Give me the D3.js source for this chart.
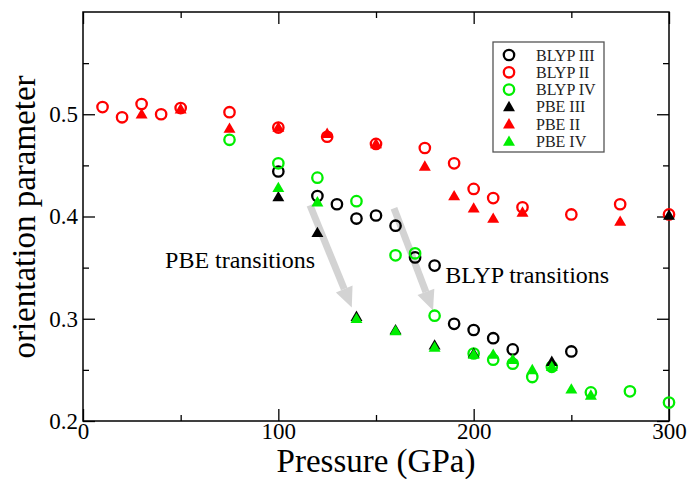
<!DOCTYPE html>
<html>
<head>
<meta charset="utf-8">
<script src="https://cdn.jsdelivr.net/npm/d3@7"></script>
<style>
  html, body { margin: 0; padding: 0; background: #fff; }
  svg { display: block; }
  text { font-family: "Liberation Serif", "Times New Roman", serif; }
</style>
</head>
<body>
<svg id="chart" width="691" height="479"></svg>
<script>
// ---------------- data ----------------
const blypIII_P = [100, 120, 130, 140, 150, 160, 170, 180, 190, 200, 210, 220, 250];
const blypIII_V = [0.444, 0.420, 0.412, 0.398, 0.401, 0.391, 0.360, 0.352, 0.295, 0.289, 0.281, 0.270, 0.268];

const blypII_P = [10, 20, 30, 40, 50, 75, 100, 125, 150, 175, 190, 200, 210, 225, 250, 275, 300];
const blypII_V = [0.507, 0.497, 0.510, 0.500, 0.506, 0.502, 0.487, 0.478, 0.471, 0.467, 0.452, 0.427, 0.418, 0.409, 0.402, 0.412, 0.402];

const blypIV_P = [75, 100, 120, 140, 160, 170, 180, 200, 210, 220, 230, 240, 260, 280, 300];
const blypIV_V = [0.475, 0.452, 0.438, 0.415, 0.362, 0.364, 0.303, 0.266, 0.260, 0.256, 0.243, 0.253, 0.228, 0.229, 0.218];

const pbeIII_P = [100, 120, 140, 160, 180, 200, 240, 300];
const pbeIII_V = [0.419, 0.384, 0.302, 0.289, 0.274, 0.266, 0.258, 0.401];

const pbeII_P = [30, 50, 75, 100, 125, 150, 175, 190, 200, 210, 225, 275];
const pbeII_V = [0.500, 0.505, 0.486, 0.487, 0.481, 0.471, 0.449, 0.420, 0.408, 0.398, 0.404, 0.395];

const pbeIV_P = [100, 120, 140, 160, 180, 200, 210, 220, 230, 240, 250, 260];
const pbeIV_V = [0.428, 0.414, 0.300, 0.288, 0.272, 0.265, 0.265, 0.260, 0.250, 0.253, 0.231, 0.225];

const seriesNames = ["BLYP III", "BLYP II", "BLYP IV", "PBE III", "PBE II", "PBE IV"];
const seriesColors = ["#000000", "#ff0000", "#00ee00", "#000000", "#ff0000", "#00ee00"];
const seriesShapes = ["circle", "circle", "circle", "triangle", "triangle", "triangle"];
const seriesP = [blypIII_P, blypII_P, blypIV_P, pbeIII_P, pbeII_P, pbeIV_P];
const seriesV = [blypIII_V, blypII_V, blypIV_V, pbeIII_V, pbeII_V, pbeIV_V];

const xMajorTicks = [0, 100, 200, 300];
const xMinorTicks = [50, 150, 250];
const yMajorTicks = [0.2, 0.3, 0.4, 0.5];
const yMinorTicks = [0.25, 0.35, 0.45, 0.55];

const annotations = [
  { text: "PBE transitions", P: 42, V: 0.350, fromP: 116.2, fromV: 0.411, toP: 137.6, toV: 0.311 },
  { text: "BLYP transitions", P: 185.4, V: 0.335, fromP: 159.2, fromV: 0.408, toP: 179.2, toV: 0.308 }
];

// ---------------- layout ----------------
const svg = d3.select("#chart");
const L = 83, R = 669, T = 12, B = 421;
const x = d3.scaleLinear().domain([0, 300]).range([L, R]);
const y = d3.scaleLinear().domain([0.2, 0.6]).range([B, T]);

function styleAxis(g) {
  g.select(".domain").remove();
  g.selectAll(".tick line").attr("stroke", "#000").attr("stroke-width", 1.3);
  g.selectAll(".tick text").attr("fill", "#000");
}

// bottom
svg.append("g").attr("transform", `translate(0,${B})`)
  .call(d3.axisBottom(x).tickValues(xMajorTicks).tickSizeInner(-12).tickSizeOuter(0).tickPadding(2).tickFormat(d3.format("d")))
  .call(styleAxis)
  .call(g => g.selectAll(".tick text").attr("font-size", 23));
svg.append("g").attr("transform", `translate(0,${B})`)
  .call(d3.axisBottom(x).tickValues(xMinorTicks).tickSizeInner(-6).tickSizeOuter(0).tickFormat(""))
  .call(styleAxis);
// top
svg.append("g").attr("transform", `translate(0,${T})`)
  .call(d3.axisTop(x).tickValues(xMajorTicks).tickSizeInner(-12).tickSizeOuter(0).tickFormat(""))
  .call(styleAxis);
svg.append("g").attr("transform", `translate(0,${T})`)
  .call(d3.axisTop(x).tickValues(xMinorTicks).tickSizeInner(-6).tickSizeOuter(0).tickFormat(""))
  .call(styleAxis);
// left
svg.append("g").attr("transform", `translate(${L},0)`)
  .call(d3.axisLeft(y).tickValues(yMajorTicks).tickSizeInner(-12).tickSizeOuter(0).tickPadding(5).tickFormat(d3.format(".1f")))
  .call(styleAxis)
  .call(g => g.selectAll(".tick text").attr("font-size", 23));
svg.append("g").attr("transform", `translate(${L},0)`)
  .call(d3.axisLeft(y).tickValues(yMinorTicks).tickSizeInner(-6).tickSizeOuter(0).tickFormat(""))
  .call(styleAxis);
// right
svg.append("g").attr("transform", `translate(${R},0)`)
  .call(d3.axisRight(y).tickValues(yMajorTicks).tickSizeInner(-12).tickSizeOuter(0).tickFormat(""))
  .call(styleAxis);
svg.append("g").attr("transform", `translate(${R},0)`)
  .call(d3.axisRight(y).tickValues(yMinorTicks).tickSizeInner(-6).tickSizeOuter(0).tickFormat(""))
  .call(styleAxis);

// frame
svg.append("rect").attr("x", L).attr("y", T).attr("width", R - L).attr("height", B - T)
  .attr("fill", "none").attr("stroke", "#000").attr("stroke-width", 1.5);

// axis titles
svg.append("text").attr("x", (L + R) / 2).attr("y", 472).attr("text-anchor", "middle")
  .attr("font-size", 33).text("Pressure (GPa)");
svg.append("text").attr("transform", `translate(35,217) rotate(-90)`)
  .attr("text-anchor", "middle").attr("font-size", 33).text("orientation parameter");

// annotations (arrows + text)
const arrowG = svg.append("g");
annotations.forEach(a => {
  const x1 = x(a.fromP), y1 = y(a.fromV), x2 = x(a.toP), y2 = y(a.toV);
  const ang = Math.atan2(y2 - y1, x2 - x1);
  const headLen = 20, headW = 9;
  const bx = x2 - headLen * Math.cos(ang), by = y2 - headLen * Math.sin(ang);
  arrowG.append("line").attr("x1", x1).attr("y1", y1).attr("x2", bx).attr("y2", by)
    .attr("stroke", "#d3d3d3").attr("stroke-width", 7);
  const px = -Math.sin(ang), py = Math.cos(ang);
  arrowG.append("path")
    .attr("d", `M${x2},${y2}L${bx + headW * px},${by + headW * py}L${bx - headW * px},${by - headW * py}Z`)
    .attr("fill", "#d3d3d3");
  svg.append("text").attr("x", x(a.P)).attr("y", y(a.V)).attr("font-size", 24).text(a.text);
});

// markers
const tri = d3.symbol().type(d3.symbolTriangle).size(62);
function drawMarker(g, shape, color, cx, cy) {
  if (shape === "circle") {
    g.append("circle").attr("cx", cx).attr("cy", cy).attr("r", 5.2)
      .attr("fill", "none").attr("stroke", color).attr("stroke-width", 2.3);
  } else {
    g.append("path").attr("d", tri()).attr("transform", `translate(${cx},${cy + 0.8})`)
      .attr("fill", color);
  }
}
const pts = svg.append("g");
seriesNames.forEach((name, i) => {
  const g = pts.append("g");
  seriesP[i].forEach((p, j) => drawMarker(g, seriesShapes[i], seriesColors[i], x(p), y(seriesV[i][j])));
});

// legend
const lg = svg.append("g");
lg.append("rect").attr("x", 493).attr("y", 42).attr("width", 111).attr("height", 110)
  .attr("fill", "#fff").attr("stroke", "#555").attr("stroke-width", 1.3);
seriesNames.forEach((name, i) => {
  const cy = 55 + i * 17.3;
  drawMarker(lg, seriesShapes[i], seriesColors[i], 509, cy);
  lg.append("text").attr("x", 536).attr("y", cy + 5.5).attr("font-size", 16).attr("fill", "#222").text(name);
});
</script>
</body>
</html>
